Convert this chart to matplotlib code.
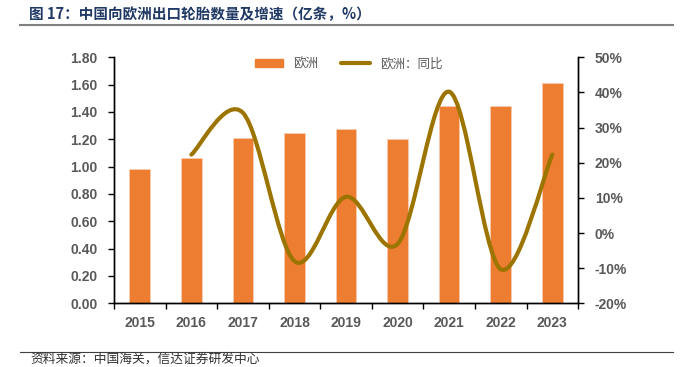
import matplotlib.pyplot as plt
import numpy as np
from matplotlib.path import Path
from matplotlib.patches import PathPatch
from matplotlib.lines import Line2D
from matplotlib.ticker import FuncFormatter

plt.rcParams['font.family'] = ['Liberation Sans', 'Noto Sans CJK SC', 'DejaVu Sans']

# data
years = ['2015', '2016', '2017', '2018', '2019', '2020', '2021', '2022', '2023']
volume = [0.98, 1.06, 1.21, 1.245, 1.275, 1.20, 1.44, 1.445, 1.61]   # 亿条
growth_years = years[1:]
growth = [22.3, 34.2, -8.0, 10.3, -3.1, 40.2, -10.3, 22.3]         # %

bar_color = '#ED7D31'
line_color = '#9C7400'
tick_color = '#595959'

fig = plt.figure(figsize=(6.89, 3.67), dpi=100)
ax = fig.add_axes([0.1655, 0.1736, 0.6735, 0.6703])
ax2 = ax.twinx()

x = np.arange(len(years))
ax.bar(x, volume, width=0.4, color=bar_color, edgecolor='#F8CBAD', linewidth=0.6, zorder=2)

ax.set_xlim(-0.5, len(years) - 0.5)
ax.set_ylim(0, 1.8)
ax.set_yticks(np.arange(0, 1.81, 0.2))
ax.yaxis.set_major_formatter(FuncFormatter(lambda v, p: f'{v:.2f}'))
ax.set_xticks(x)
ax.set_xticklabels(years)
ax.set_xticks(np.arange(-0.5, len(years), 1), minor=True)
ax.tick_params(axis='x', which='major', length=0, pad=9)
ax.tick_params(axis='x', which='minor', length=4, direction='out', width=1)
ax.tick_params(axis='y', length=4, width=1, direction='out', pad=8)

# smoothed growth line (Excel style bezier through the points)
gx = np.array([years.index(y) for y in growth_years], dtype=float)
gy = np.array(growth, dtype=float)
pts = np.column_stack([gx, gy])
ext = np.vstack([pts[0], pts, pts[-1]])
verts = [tuple(pts[0])]
codes = [Path.MOVETO]
for i in range(len(pts) - 1):
    p0, p1, p2, p3 = ext[i], ext[i + 1], ext[i + 2], ext[i + 3]
    c1 = p1 + (p2 - p0) / 6.0
    c2 = p2 - (p3 - p1) / 6.0
    verts += [tuple(c1), tuple(c2), tuple(p2)]
    codes += [Path.CURVE4] * 3
ax2.add_patch(PathPatch(Path(verts, codes), facecolor='none', edgecolor=line_color,
                        linewidth=3, capstyle='round', zorder=3))
ax2.set_ylim(-20, 50)
ax2.set_yticks(np.arange(-20, 51, 10))
ax2.yaxis.set_major_formatter(FuncFormatter(lambda v, p: f'{v:.0f}%'))
ax2.tick_params(axis='y', length=4, width=1, direction='out', pad=8)

for a in (ax, ax2):
    a.spines['top'].set_visible(False)
    for s in a.spines.values():
        s.set_linewidth(1)
        s.set_color('black')
    for lbl in a.get_xticklabels() + a.get_yticklabels():
        lbl.set_fontsize(10)
        lbl.set_fontweight('bold')
        lbl.set_color(tick_color)

handles = [plt.Rectangle((0, 0), 1, 1, color=bar_color),
           Line2D([0], [0], color=line_color, linewidth=3, solid_capstyle='round')]
leg = ax.legend(handles, ['欧洲', '欧洲：同比'], loc='upper center', bbox_to_anchor=(0.505, 1.045),
                ncol=2, frameon=False, handlelength=2.3, handleheight=0.6, columnspacing=1.8,
                prop={'family': ['Noto Sans CJK SC'], 'size': 9})
for t in leg.get_texts():
    t.set_color(tick_color)

fig.text(0.042, 0.963, '图 17：中国向欧洲出口轮胎数量及增速（亿条，%）', fontsize=10.5, fontweight='bold',
         color='#1F3864', va='center', family=['Noto Sans CJK SC'])
fig.add_artist(Line2D([0.029, 0.977], [0.932, 0.932], color='#808080', linewidth=1.5))
fig.add_artist(Line2D([0.029, 0.977], [0.041, 0.041], color='#404040', linewidth=0.8))
fig.text(0.044, 0.022, '资料来源：中国海关，信达证券研发中心', fontsize=9.2, color='#333333',
         va='center', style='italic', family=['Noto Sans CJK SC'])

fig.savefig('out.png', dpi=100)
